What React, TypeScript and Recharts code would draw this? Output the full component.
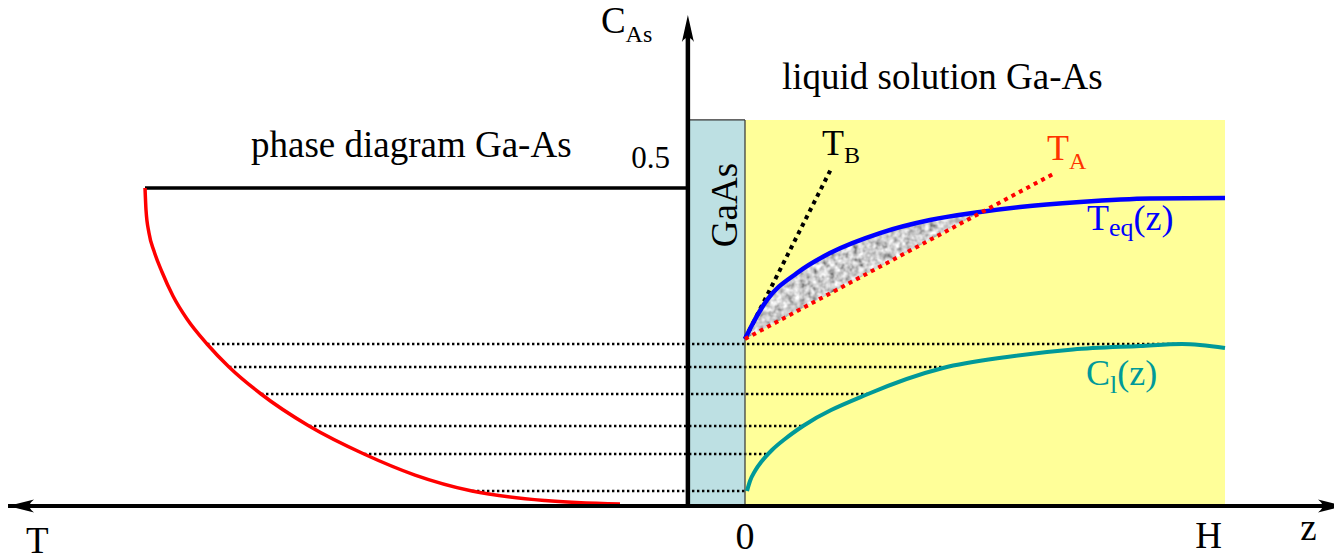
import React from 'react';
import { ComposedChart, Line, Area, Scatter, XAxis, YAxis, ReferenceDot } from 'recharts';

// x: depth z in the solution (0 = GaAs / solution interface, 1 = H); negative side = phase-diagram T direction
// y: arsenic concentration C_As
const liquidusX = [-1.25, -1.2479, -1.2417, -1.2313, -1.2146, -1.1917, -1.1625, -1.1208, -1.075, -1.0083, -0.9083, -0.7938, -0.6875, -0.5688, -0.4167, -0.2604];
const liquidusC = [0.5, 0.4654, 0.4292, 0.4009, 0.3679, 0.3302, 0.294, 0.2547, 0.2186, 0.1761, 0.1258, 0.0818, 0.0487, 0.0236, 0.0086, 0.0031];

const solidusC = 0.5;
const solidusX = [-1.25, -0.119];

const levelC = [0.2547, 0.2186, 0.1761, 0.1258, 0.0818, 0.0236];
const levelLeftX = [-1.1208, -1.075, -1.0083, -0.9083, -0.7938, -0.5688];
const levelRightX = [0.9104, 0.4125, 0.2563, 0.1208, 0.049, 0.0042];

const teqZ = [0, 0.0146, 0.0458, 0.1083, 0.1771, 0.2813, 0.3854, 0.4896, 0.5729, 0.6979, 0.8438, 1.0];
const teqC = [0.2626, 0.2846, 0.3239, 0.3664, 0.3978, 0.4292, 0.4497, 0.4623, 0.4701, 0.478, 0.4835, 0.4843];

const clZ = [0.0042, 0.0104, 0.0208, 0.0354, 0.0563, 0.0833, 0.1208, 0.2563, 0.4125, 0.5458, 0.6833, 0.8229, 0.9104, 1.0];
const clC = [0.0236, 0.0393, 0.055, 0.0708, 0.0881, 0.1054, 0.1258, 0.1761, 0.217, 0.2343, 0.2461, 0.2516, 0.2547, 0.2484];

const taZ = [0, 0.6458];
const taC = [0.2626, 0.5236];
const tbZ = [0, 0.1813];
const tbC = [0.2626, 0.533];

const bandZ = [0, 0.0146, 0.0458, 0.1083, 0.1771, 0.2813, 0.3854, 0.4896];
const bandLow = [0.2626, 0.2685, 0.2811, 0.3064, 0.3342, 0.3763, 0.4184, 0.4614];
const bandHigh = [0.2626, 0.2846, 0.3239, 0.3664, 0.3978, 0.4292, 0.4497, 0.4614];

const gaasZ = [-0.119, 0];
const solutionZ = [0, 1];
const cellTop = 0.607;
const axisX = -0.119;
const axisTop = 0.772;
const xRange = [-1.5521, 1.2271];
const yRange = [-0.0849, 0.7956];
const leftTip = -1.5354;

const tickOrigin = '0';
const tickH = 'H';
const axisZName = 'z';
const axisTName = 'T';
const tickHalf = '0.5';

const W = 1334;
const HGT = 560;
const FONT = "'Liberation Serif', 'Times New Roman', Times, serif";
const serif = { fontFamily: FONT };

const pts = (xs: number[], ys: number[]) => xs.map((x, i) => ({ x, y: ys[i] }));
const flat = (xs: number[], y: number) => xs.map((x) => ({ x, y }));

const note = (key: string, x: number, y: number, render: (cx: number, cy: number) => React.ReactElement) => (
  <ReferenceDot
    key={key}
    x={x}
    y={y}
    r={0}
    fill="none"
    stroke="none"
    ifOverflow="visible"
    label={{
      content: (p: any) => {
        const vb = p.viewBox || {};
        const cx = (vb.x ?? 0) + (vb.width ?? 0) / 2;
        const cy = (vb.y ?? 0) + (vb.height ?? 0) / 2;
        return render(cx, cy);
      },
    }}
  />
);

const arrowLeft = (p: any) => (
  <path d={`M${p.cx},${p.cy} L${p.cx + 26},${p.cy - 6.5} Q${p.cx + 17},${p.cy} ${p.cx + 26},${p.cy + 6.5} Z`} fill="#000" />
);
const arrowRight = (p: any) => (
  <path d={`M${p.cx + 10},${p.cy} L${p.cx - 16},${p.cy - 6.5} Q${p.cx - 7},${p.cy} ${p.cx - 16},${p.cy + 6.5} Z`} fill="#000" />
);
const arrowUp = (p: any) => (
  <path d={`M${p.cx},${p.cy} L${p.cx - 6},${p.cy + 27} Q${p.cx},${p.cy + 18} ${p.cx + 6},${p.cy + 27} Z`} fill="#000" />
);

export default function App() {
  const common = { isAnimationActive: false, dot: false, activeDot: false, legendType: 'none' as const };
  return (
    <div style={{ position: 'absolute', left: 0, top: 0, width: W, height: HGT, background: '#fff', fontFamily: FONT }}>
      <svg width={0} height={0} style={{ position: 'absolute' }}>
        <defs>
          <filter id="grainFilter" x="0" y="0" width="100%" height="100%">
            <feTurbulence type="fractalNoise" baseFrequency="0.17" numOctaves={2} seed={7} result="noise" />
            <feColorMatrix
              in="noise"
              type="matrix"
              values="0.85 0.85 0 0 -0.24  0.85 0.85 0 0 -0.24  0.85 0.85 0 0 -0.24  0 0 0 0 1"
            />
          </filter>
          <pattern id="grain" patternUnits="userSpaceOnUse" x="0" y="0" width={W} height={HGT}>
            <rect x={0} y={0} width={W} height={HGT} fill="#a0a0a0" filter="url(#grainFilter)" />
          </pattern>
        </defs>
      </svg>
      <ComposedChart width={W} height={HGT} margin={{ top: 0, right: 0, bottom: 0, left: 0 }}>
        <XAxis type="number" dataKey="x" domain={xRange} hide allowDataOverflow />
        <YAxis type="number" dataKey="y" domain={yRange} hide allowDataOverflow />

        <Area data={flat(solutionZ, cellTop)} dataKey="y" type="linear" baseValue={0} fill="#ffff99" fillOpacity={1} stroke="none" isAnimationActive={false} activeDot={false} legendType="none" />
        <Area data={flat(gaasZ, cellTop)} dataKey="y" type="linear" baseValue={0} fill="#bde0e3" fillOpacity={1} stroke="#333" strokeWidth={1.2} isAnimationActive={false} activeDot={false} legendType="none" />
        <Area
          data={bandZ.map((x, i) => ({ x, band: [bandLow[i], bandHigh[i]] }))}
          dataKey="band"
          type="monotone"
          fill="url(#grain)"
          fillOpacity={1}
          stroke="none"
          isAnimationActive={false}
          activeDot={false}
          legendType="none"
        />

        {levelC.map((c, i) => (
          <Line key={`lv${i}`} data={[{ x: levelLeftX[i], y: c }, { x: levelRightX[i], y: c }]} dataKey="y" type="linear" stroke="#000" strokeWidth={2.4} strokeDasharray="2.4 2.6" {...common} />
        ))}

        <Line data={[{ x: 0, y: cellTop }, { x: 0, y: 0 }]} dataKey="y" type="linear" stroke="#333" strokeWidth={1.2} {...common} />

        <Line data={flat(solidusX, solidusC)} dataKey="y" type="linear" stroke="#000" strokeWidth={3.5} {...common} />
        <Line data={pts(liquidusX, liquidusC)} dataKey="y" type="monotone" stroke="#ff0000" strokeWidth={3.5} {...common} />

        <Line data={pts(tbZ, tbC)} dataKey="y" type="linear" stroke="#000" strokeWidth={4} strokeDasharray="4 4.4" {...common} />
        <Line data={pts(teqZ, teqC)} dataKey="y" type="monotone" stroke="#0000ff" strokeWidth={4.5} {...common} />
        <Line data={pts(taZ, taC)} dataKey="y" type="linear" stroke="#ff0000" strokeWidth={4} strokeDasharray="4 4.4" {...common} />
        <Line data={pts(clZ, clC)} dataKey="y" type="monotone" stroke="#009999" strokeWidth={4} {...common} />

        <Line data={[{ x: leftTip, y: 0 }, { x: xRange[1], y: 0 }]} dataKey="y" type="linear" stroke="#000" strokeWidth={4} {...common} />
        <Line data={[{ x: axisX, y: 0 }, { x: axisX, y: axisTop - 0.02 }]} dataKey="y" type="linear" stroke="#000" strokeWidth={4.5} {...common} />

        <Scatter data={[{ x: leftTip, y: 0 }]} dataKey="y" shape={arrowLeft} isAnimationActive={false} legendType="none" />
        <Scatter data={[{ x: xRange[1], y: 0 }]} dataKey="y" shape={arrowRight} isAnimationActive={false} legendType="none" />
        <Scatter data={[{ x: axisX, y: axisTop }]} dataKey="y" shape={arrowUp} isAnimationActive={false} legendType="none" />

        {note('cas', axisX, 0.75, (cx, cy) => (
          <text x={cx - 87} y={cy + 4} style={serif} fontSize={37} fill="#000">
            C<tspan fontSize={24} dy={9}>As</tspan>
          </text>
        ))}
        {note('liq', 0, 0.7, (cx, cy) => (
          <text x={cx + 37} y={cy + 28} style={serif} fontSize={37} fill="#000">liquid solution Ga-As</text>
        ))}
        {note('phase', -1, 0.55, (cx, cy) => (
          <text x={cx - 14} y={cy + 1} style={serif} fontSize={37} fill="#000">phase diagram Ga-As</text>
        ))}
        {note('half', axisX, solidusC, (cx, cy) => (
          <text x={cx - 18} y={cy - 20} style={serif} fontSize={31} textAnchor="end" fill="#000">{tickHalf}</text>
        ))}
        {note('gaas', axisX, solidusC, (cx, cy) => (
          <text x={cx + 49} y={cy + 17} transform={`rotate(-90 ${cx + 49} ${cy + 17})`} style={serif} fontSize={37} textAnchor="middle" fill="#000">GaAs</text>
        ))}
        {note('tb', tbZ[1], tbC[1], (cx, cy) => (
          <text x={cx - 10} y={cy - 12} style={serif} fontSize={36} fill="#000">
            T<tspan fontSize={24} dy={8}>B</tspan>
          </text>
        ))}
        {note('ta', taZ[1], taC[1], (cx, cy) => (
          <text x={cx - 8} y={cy - 13} style={serif} fontSize={36} fill="#ff3300">
            T<tspan fontSize={24} dy={9}>A</tspan>
          </text>
        ))}
        {note('teq', 1, teqC[teqC.length - 1], (cx, cy) => (
          <text x={cx - 138} y={cy + 32} style={serif} fontSize={36} fill="#0000ff">
            T<tspan fontSize={26} dy={6}>eq</tspan><tspan fontSize={36} dy={-6}>(z)</tspan>
          </text>
        ))}
        {note('cl', 1, clC[clC.length - 1], (cx, cy) => (
          <text x={cx - 139} y={cy + 37} style={serif} fontSize={36} fill="#009999">
            C<tspan fontSize={26} dy={8}>l</tspan><tspan fontSize={36} dy={-8}>(z)</tspan>
          </text>
        ))}
        {note('tname', xRange[0], 0, (cx, cy) => (
          <text x={cx + 26} y={cy + 47} style={serif} fontSize={37} fill="#000">{axisTName}</text>
        ))}
        {note('zero', 0, 0, (cx, cy) => (
          <text x={cx} y={cy + 43} style={serif} fontSize={38} textAnchor="middle" fill="#000">{tickOrigin}</text>
        ))}
        {note('hh', 1, 0, (cx, cy) => (
          <text x={cx - 16.5} y={cy + 42} style={serif} fontSize={37} textAnchor="middle" fill="#000">{tickH}</text>
        ))}
        {note('zname', xRange[1], 0, (cx, cy) => (
          <text x={cx - 25.5} y={cy + 34} style={serif} fontSize={37} textAnchor="middle" fill="#000">{axisZName}</text>
        ))}
      </ComposedChart>
    </div>
  );
}
